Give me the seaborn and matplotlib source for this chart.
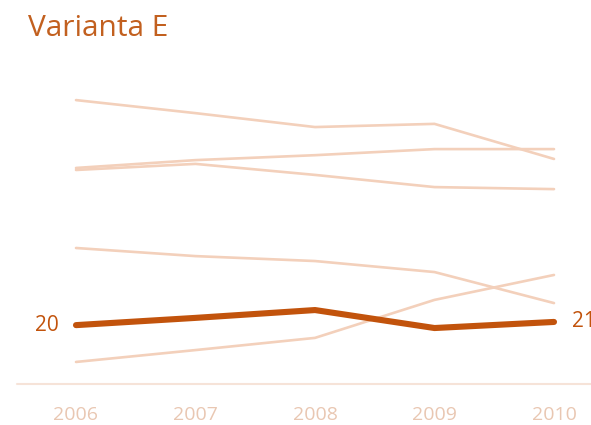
import matplotlib
matplotlib.use("Agg")
import matplotlib.pyplot as plt
import seaborn as sns
import pandas as pd

years = [2006, 2007, 2008, 2009, 2010]
series_a = [97.9, 93.4, 88.6, 89.7, 77.6]
series_b = [74.5, 77.2, 78.9, 81.0, 81.0]
series_c = [73.8, 75.9, 72.1, 67.9, 67.2]
series_d = [46.9, 44.1, 42.4, 38.6, 27.9]
series_e = [7.6, 11.7, 15.9, 29.0, 37.6]
highlight = [20.3, 22.8, 25.5, 19.3, 21.4]
start_label = "20"
end_label = "21"
title = "Varianta E"

sns.set_theme(style="white")
plt.rcParams['font.family'] = ['Open Sans', 'DejaVu Sans']

light = "#F3D0BB"
dark = "#C2530C"

rows = []
for name, vals in [("A", series_a), ("B", series_b), ("C", series_c),
                   ("D", series_d), ("E", series_e)]:
    for y, v in zip(years, vals):
        rows.append({"year": y, "value": v, "series": name})
bg = pd.DataFrame(rows)
hl = pd.DataFrame({"year": years, "value": highlight})

fig = plt.figure(figsize=(5.91, 4.25), dpi=100)
W, H = 591, 425
ax = fig.add_axes([76 / W, 1 - 384 / H, (554 - 76) / W, 290 / H])

sns.lineplot(data=bg, x="year", y="value", units="series", estimator=None,
             color=light, linewidth=1.9, ax=ax, clip_on=False)
sns.lineplot(data=hl, x="year", y="value", color=dark, linewidth=4.4,
             solid_capstyle="round", ax=ax, clip_on=False)

ax.set_xlim(2006, 2010)
ax.set_ylim(0, 100)
ax.axhline(0, xmin=-0.123, xmax=1.08, color="#F6E3D8", linewidth=1.5,
           clip_on=False)
for s in ax.spines.values():
    s.set_visible(False)
ax.set_yticks([])
ax.set_xticks(years)
ax.set_xticklabels([str(y) for y in years], fontsize=14, color="#E9C7B2")
ax.tick_params(axis="x", length=0, pad=16)
ax.set_xlabel("")
ax.set_ylabel("")

ax.text(-0.037, highlight[0], start_label, transform=ax.get_yaxis_transform(),
        ha="right", va="center", fontsize=15, color=dark)
ax.text(1.037, highlight[-1], end_label, transform=ax.get_yaxis_transform(),
        ha="left", va="center", fontsize=15, color=dark, clip_on=False)

fig.text(28 / W, 1 - 36 / H, title, fontsize=21.5, color="#C2601F",
         ha="left", va="baseline")

fig.savefig("out.png", dpi=100)
